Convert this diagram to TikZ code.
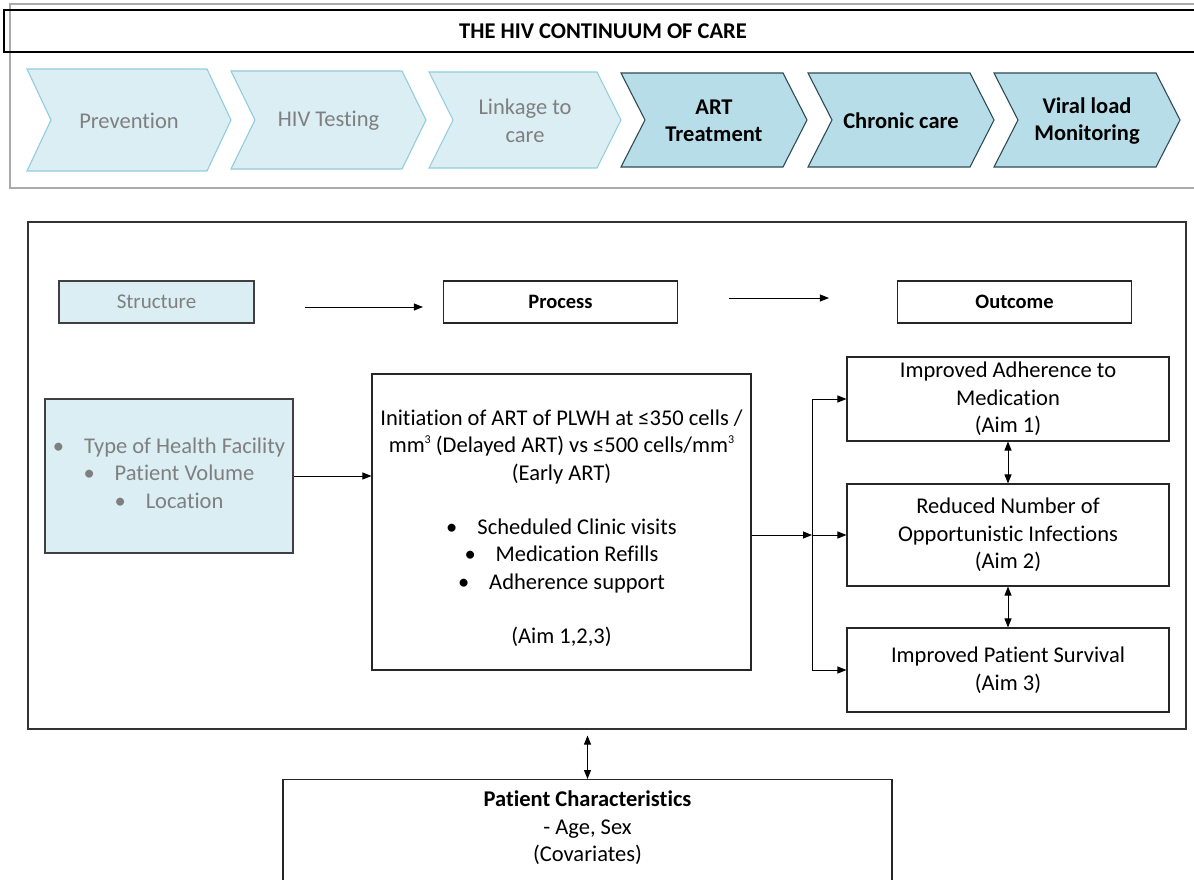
\documentclass[tikz,border=0pt]{standalone}
\usepackage{fontspec}
\setmainfont{Carlito}[Ligatures={NoCommon}]
\usetikzlibrary{arrows.meta, positioning, calc}
\definecolor{lightfill}{RGB}{218, 238, 243}
\definecolor{lightline}{RGB}{146, 205, 220}
\definecolor{darkfill}{RGB}{183, 222, 232}
\definecolor{darkline}{RGB}{47, 75, 86}
\definecolor{greytext}{RGB}{127, 127, 127}
\definecolor{frameline}{RGB}{170, 170, 170}

\begin{document}
\begin{tikzpicture}[
    x=1pt, y=-1pt,
    font=\fontsize{22.5}{27.5}\selectfont,
    % Define styles
    box/.style = {rectangle, draw=black!85, line width=1.1pt, align=center, inner sep=0pt},
    shadebox/.style = {box, fill=lightfill, draw=black!75, text=greytext},
    head/.style = {box, minimum width=234pt, minimum height=42pt, font=\fontsize{20.5}{27}\selectfont\bfseries},
    aimbox/.style = {box, minimum width=322pt},
    lightchev/.style = {fill=lightfill, draw=lightline, line width=1.1pt},
    darkchev/.style = {fill=darkfill, draw=darkline, line width=1.1pt},
    lighttext/.style = {align=center, text=greytext},
    darktext/.style = {align=center, font=\fontsize{22.5}{27.5}\selectfont\bfseries},
    arrow/.style = {line width=0.9pt, -{Triangle[length=9pt, width=7pt]}},
    dblarrow/.style = {line width=0.9pt, {Triangle[length=9pt, width=7pt]}-{Triangle[length=9pt, width=7pt]}}
]
\useasboundingbox (0,0) rectangle (1194,880);

% Continuum banner
\draw [frameline, line width=1.5pt] (10,4) rectangle (1210,188);
\node [box, draw=black, minimum width=1198pt, minimum height=42pt, font=\fontsize{22.5}{27}\selectfont\bfseries] (title) at (603,31) {THE HIV CONTINUUM OF CARE};

% Chevrons
\foreach \xl/\xr/\yt/\yb/\sty/\tsty/\lbl/\nm in {
    27/231/69/171/lightchev/lighttext/{Prevention}/prev,
    231/426/71/169/lightchev/lighttext/{HIV Testing}/testing,
    429/621/72/168/lightchev/lighttext/{Linkage to\\care}/linkage,
    621/807/73/167/darkchev/darktext/{ART\\Treatment}/art,
    808/994/73/167/darkchev/darktext/{Chronic care}/chronic,
    994/1180/73/167/darkchev/darktext/{Viral load\\Monitoring}/viral} {
  \draw [\sty] (\xl,\yt) -- (\xr-24,\yt) -- (\xr,{(\yt+\yb)/2}) -- (\xr-24,\yb) -- (\xl,\yb) -- (\xl+24,{(\yt+\yb)/2}) -- cycle;
  \node [\tsty] (\nm) at ({(\xl+\xr)/2},{(\yt+\yb)/2+1}) {\lbl};
}

% Framework
\node [box, draw=black!80, minimum width=1158pt, minimum height=507pt] (mainframe) at (607,475.5) {};

\node [shadebox, minimum width=195pt, minimum height=42pt, font=\fontsize{21}{27}\selectfont] (structure) at (156.5,302) {Structure};
\node [head] (process) at (560.5,302) {Process};
\node [head] (outcome) at (1014.5,302) {Outcome};

\draw [arrow, shorten <=50pt, shorten >=20pt] ([yshift=-5pt]structure.east) -- ([yshift=-5pt]process.west);
\draw [arrow, shorten <=51pt, shorten >=68pt] ([yshift=4pt]process.east) -- ([yshift=4pt]outcome.west);

\node [shadebox, minimum width=248pt, minimum height=154pt] (factors) at (169,476) {};
\node [lighttext] (factorstext) at (169,473) {\textbullet\hspace{20pt}Type of Health Facility\\ \textbullet\hspace{20pt}Patient Volume\\ \textbullet\hspace{20pt}Location};

\node [box, minimum width=379pt, minimum height=296pt] (init) at (561.5,522) {};
\node [align=center] (inittext) at (561.5,528) {Initiation of ART of PLWH at ≤350 cells /\\ mm\raisebox{9pt}{\fontsize{12}{12}\selectfont 3} (Delayed ART) vs ≤500 cells/mm\raisebox{9pt}{\fontsize{12}{12}\selectfont 3}\\ (Early ART)\\[26.5pt] \textbullet\hspace{20pt}Scheduled Clinic visits\\ \textbullet\hspace{20pt}Medication Refills\\ \textbullet\hspace{20pt}Adherence support\\[26.5pt] (Aim 1,2,3)};

\node [aimbox, minimum height=84pt] (aim1) at (1008,399) {Improved Adherence to\\Medication\\(Aim 1)};
\node [aimbox, minimum height=102pt] (aim2) at (1008,535) {Reduced Number of\\Opportunistic Infections\\(Aim 2)};
\node [aimbox, minimum height=84pt] (aim3) at (1008,670) {Improved Patient Survival\\(Aim 3)};

% Arrows
\draw [arrow] (factors) -- (factors -| init.west);
\coordinate (split) at (812,535);
\draw [arrow] ([yshift=-13pt]init.east) -- (split);
\draw [arrow] (split) -- (aim2);
\draw [arrow] (split) |- (aim1);
\draw [arrow] (split) |- (aim3);
\draw [dblarrow] (aim1) -- (aim2);
\draw [dblarrow] (aim2) -- (aim3);

% Patient characteristics
\node [box, minimum width=609pt, minimum height=140pt, anchor=north] (patient) at (587.5,779) {};
\node [align=center] (patienttext) at (587.5,828) {\textbf{Patient Characteristics}\\- Age, Sex\\(Covariates)};
\draw [dblarrow, shorten <=6pt] (mainframe.south -| patient.north) -- (patient.north);

\end{tikzpicture}
\end{document}
